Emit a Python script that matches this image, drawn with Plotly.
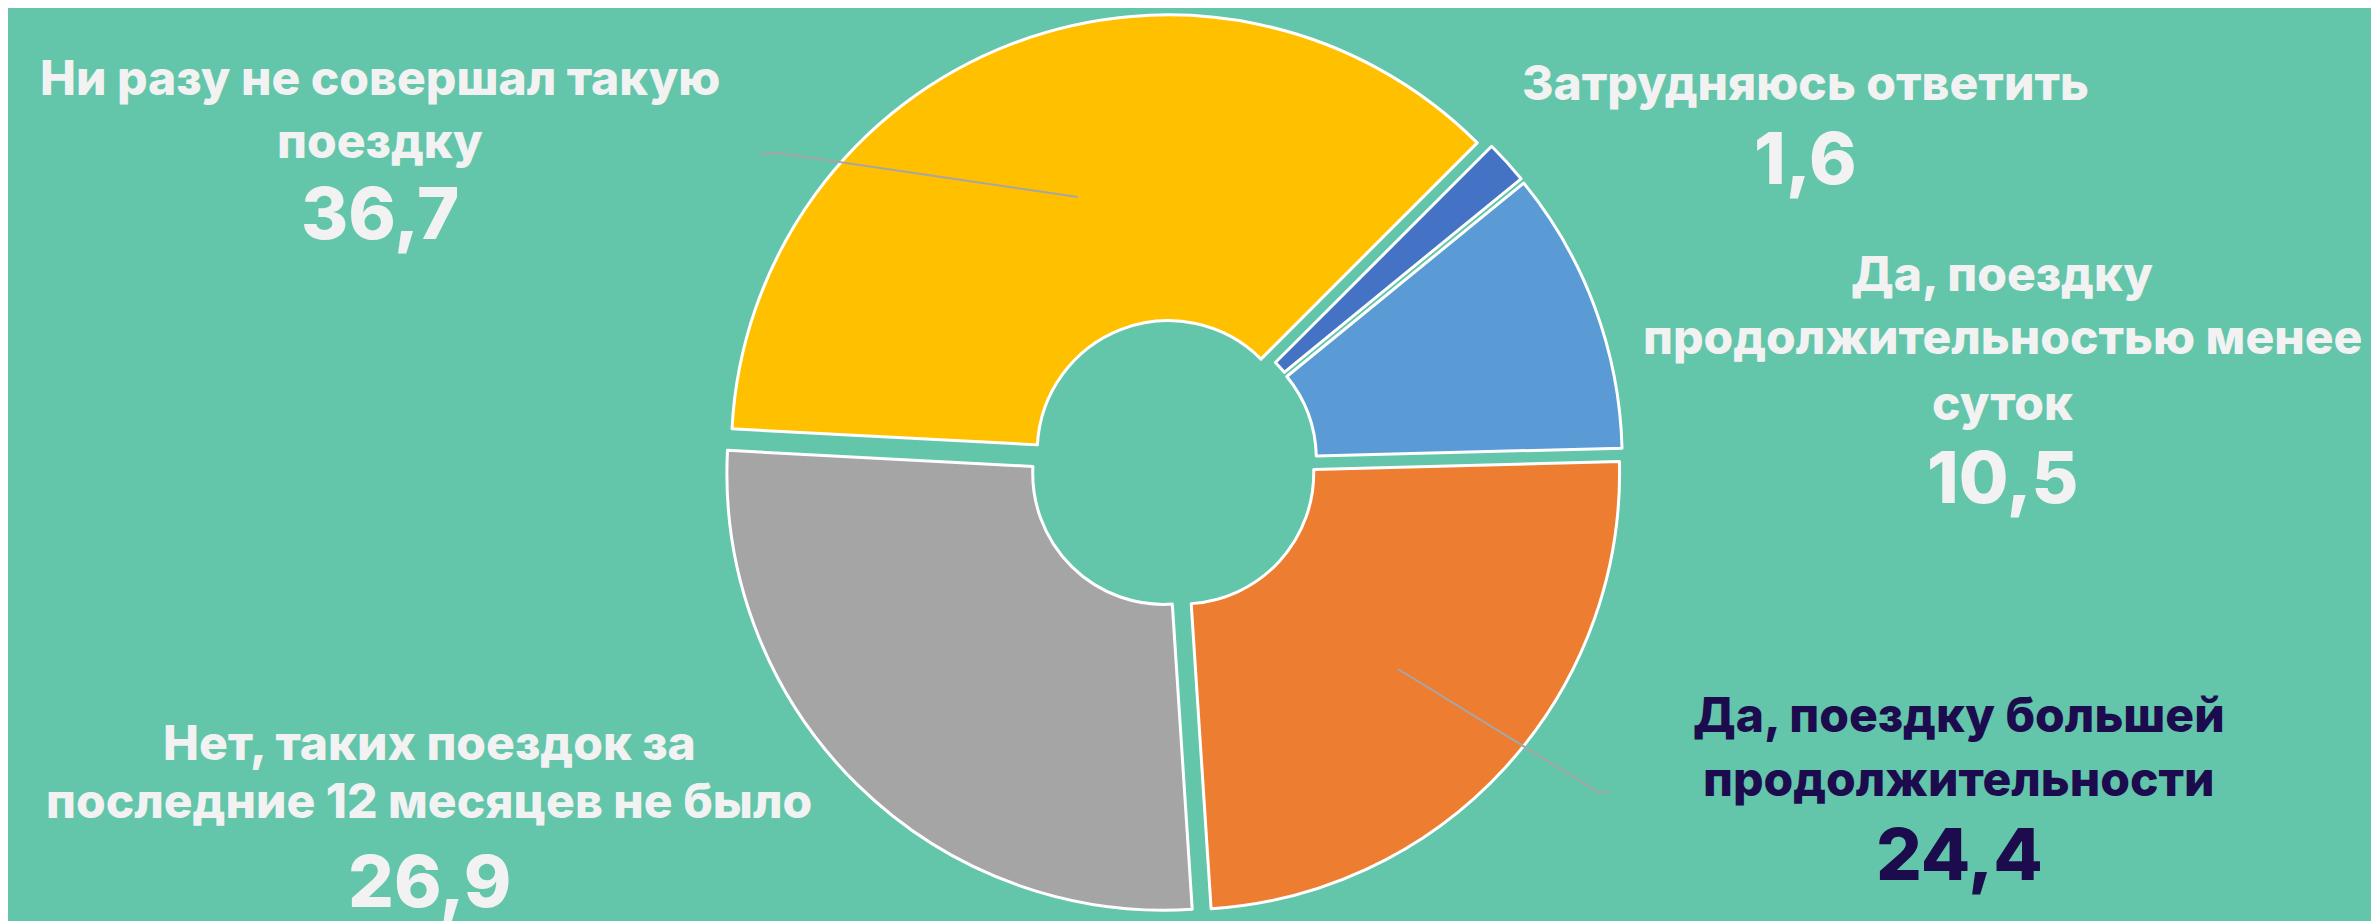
import plotly.graph_objects as go

W, H = 2379, 921

labels = ["Затрудняюсь ответить",
          "Да, поездку продолжительностью менее суток",
          "Да, поездку большей продолжительности",
          "Нет, таких поездок за последние 12 месяцев не было",
          "Ни разу не совершал такую поездку"]
values = [1.6, 10.5, 24.4, 26.9, 36.7]
colors = ["#4472C4", "#5B9BD5", "#ED7D31", "#A5A5A5", "#FFC000"]
value_text = ["1,6", "10,5", "24,4", "26,9", "36,7"]

# label layout: wrapped lines, pixel centre x, line y positions, number y, colour
label_lines = [["Затрудняюсь ответить"],
               ["Да, поездку", "продолжительностью менее", "суток"],
               ["Да, поездку большей", "продолжительности"],
               ["Нет, таких поездок за", "последние 12 месяцев не было"],
               ["Ни разу не совершал такую", "поездку"]]
label_x = [1797, 1994, 1951, 421, 372]
label_line_y = [[74], [265, 329, 395], [706, 770], [734, 792], [69, 132]]
label_num_y = [150, 468, 845, 872, 204]
label_color = ["#F2F2F2", "#F2F2F2", "#1C0C4E", "#F2F2F2", "#F2F2F2"]

BG = "#63C5AA"
FONT = "Inter"

def px(x):
    return x / W

def py(y):
    return 1 - y / H

cx, cy, R = 1165, 456, 450

fig = go.Figure()
fig.add_trace(go.Pie(
    labels=labels, values=values, sort=False, direction="clockwise",
    rotation=45, hole=0.3, pull=[0.03] * 5,
    marker=dict(colors=colors, line=dict(color="white", width=3)),
    textinfo="none", hoverinfo="label+value", showlegend=False,
    domain=dict(x=[px(cx - 470), px(cx + 470)], y=[py(cy + R), py(cy - R)]),
))

annotations = []
for lines, x, ys, ny, col, vt in zip(label_lines, label_x, label_line_y,
                                     label_num_y, label_color, value_text):
    for line, y in zip(lines, ys):
        annotations.append(dict(text=line, x=px(x), y=py(y), xref="paper", yref="paper",
                                xanchor="center", yanchor="middle", showarrow=False,
                                borderpad=0,
                                font=dict(family=FONT, size=48, color=col, weight=800)))
    annotations.append(dict(text=vt, x=px(x), y=py(ny), xref="paper", yref="paper",
                            xanchor="center", yanchor="middle", showarrow=False,
                            borderpad=0,
                            font=dict(family=FONT, size=72, color=col, weight=800)))

leader = dict(color="#A6A6A6", width=2)
shapes = [
    dict(type="path", xref="paper", yref="paper",
         path=f"M {px(752)},{py(146)} L {px(770)},{py(145)} L {px(1070)},{py(189)}", line=leader),
    dict(type="path", xref="paper", yref="paper",
         path=f"M {px(1390)},{py(661)} L {px(1590)},{py(784)} L {px(1602)},{py(784)}", line=leader),
]

fig.update_layout(width=W, height=H, margin=dict(l=0, r=0, t=0, b=0),
                  paper_bgcolor=BG, plot_bgcolor=BG,
                  annotations=annotations, shapes=shapes)

fig.write_html("out.html")
